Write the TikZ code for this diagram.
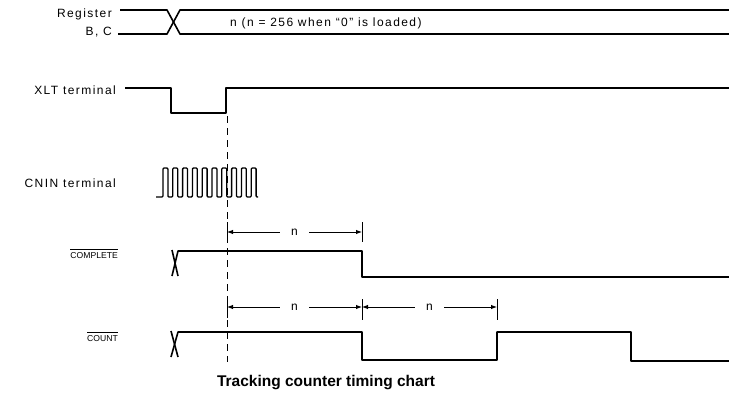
\documentclass[tikz,border=0pt]{standalone}
\usepackage{fontspec}
\setmainfont{Liberation Sans}
\newfontfamily\lblfont[LetterSpace=12,Ligatures=TeX]{Liberation Sans}
\usetikzlibrary{arrows.meta}
\begin{document}
\begin{tikzpicture}[x=1pt,y=-1pt,
  sig/.style={line width=1.6pt, line join=round},
  clk/.style={line width=1.3pt, line join=round, rounded corners=1pt},
  lbl/.style={font=\lblfont\fontsize{12}{14}\selectfont, inner sep=0pt},
  small/.style={font=\fontsize{8.6}{10}\selectfont, anchor=east, inner sep=0pt},
  dimline/.style={line width=0.9pt, {Latex[length=6pt,width=4.5pt]}-{Latex[length=6pt,width=4.5pt]}},
  tickline/.style={line width=0.9pt},
  gapn/.style={lbl, fill=white, inner xsep=11pt, inner ysep=2pt},
  vguide/.style={line width=0.9pt, dash pattern=on 7pt off 5pt},
  ttl/.style={font=\bfseries\fontsize{15.5}{18}\selectfont, inner sep=0pt}
]
\useasboundingbox (0,0) rectangle (729,399);

% Register B, C
\node[lbl, anchor=east] (reg) at (112,14) {Register};
\node[lbl, anchor=east] (bc) at (112,32) {B, C};
\draw[sig] (120,10) -- (167,10) -- (180,34) -- (729,34);
\draw[sig] (118,34) -- (167,34) -- (180,10) -- (729,10);
\node[lbl, anchor=west] (regtext) at (230,23) {n (n = 256 when “0” is loaded)};

% XLT terminal
\node[lbl, anchor=east] (xlt) at (116,90) {XLT terminal};
\draw[sig] (125,88) -- (171,88) -- (171,113) -- (226,113) -- (226,88) -- (729,88);

% dashed guide
\coordinate (gtop) at (227,116);
\coordinate (gbot) at (227,362);
\draw[vguide] (gtop) -- (gbot);

% CNIN terminal
\node[lbl, anchor=east] (cnin) at (116,183) {CNIN terminal};
\draw[clk] (156,197)
  \foreach \i in {0,...,9} {
    -- ({163+9.8*\i},197) -- ({163+9.8*\i},168) -- ({167.9+9.8*\i},168) -- ({167.9+9.8*\i},197)
  } -- (258,197);

% COMPLETE
\node[small] (comp) at (118,256) {COMPLETE};
\draw[line width=0.7pt] ([yshift=3pt]comp.north west) -- ([yshift=3pt]comp.north east);
\draw[sig] (172,250) -- (178,276);
\draw[sig] (172,276) -- (178,251) -- (362,251) -- (362,277) -- (729,277);
\coordinate (c1) at (227,232);
\coordinate (c2) at (362,232);
\draw[tickline] (227,222) -- (227,242);
\draw[tickline] (362,222) -- (362,242);
\draw[dimline] (c1) -- node[gapn] (cn) {n} (c2);

% COUNT
\node[small] (cnt) at (118,339) {COUNT};
\draw[line width=0.7pt] ([yshift=3pt]cnt.north west) -- ([yshift=3pt]cnt.north east);
\draw[sig] (171,331) -- (178,357);
\draw[sig] (171,357) -- (178,332) -- (362,332) -- (362,360) -- (497,360) -- (497,332) -- (631,332) -- (631,361) -- (729,361);
\coordinate (d1) at (227,307);
\coordinate (d2) at (362,307);
\coordinate (d3) at (497,307);
\draw[tickline] (227,299) -- (227,318);
\draw[tickline] (362,299) -- (362,320);
\draw[tickline] (497,299) -- (497,320);
\draw[dimline] (d1) -- node[gapn] (n1) {n} (d2);
\draw[dimline] (d2) -- node[gapn] (n2) {n} (d3);

% title
\node[ttl] (title) at (326,383) {Tracking counter timing chart};
\end{tikzpicture}
\end{document}
